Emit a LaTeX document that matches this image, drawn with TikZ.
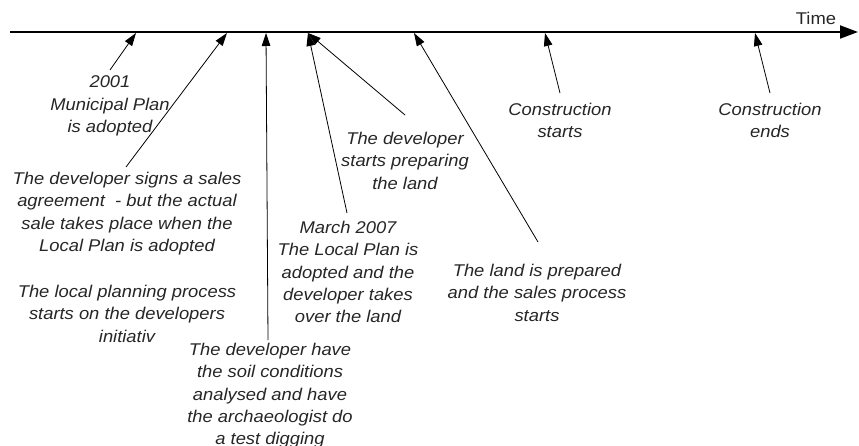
\documentclass[tikz,border=0pt]{standalone}
\usepackage{fontspec}
\setmainfont{Liberation Sans}[FakeStretch=1.08]
\usetikzlibrary{arrows.meta}
\begin{document}
\begin{tikzpicture}[x=1pt,y=-1pt,
  lbl/.style={anchor=north,inner sep=0pt,align=center,text=black!85,
    font=\fontsize{17}{22.4}\selectfont\itshape},
  conn/.style={line width=0.8pt,-{Triangle[length=13pt,width=8.5pt]}},
  axis/.style={line width=2pt,-{Triangle[length=18pt,width=13pt]}}]
\useasboundingbox (0,0) rectangle (859,446);
% timeline
\coordinate (tl0) at (10,32);
\coordinate (tl1) at (858,32);
\draw[axis] (tl0) -- (tl1);
\node[anchor=base,inner sep=0pt,text=black!85,font=\fontsize{17}{22.4}\selectfont] (time) at (816,25) {Time};
% points on timeline
\coordinate (p1) at (136,33);
\coordinate (p2) at (227,33);
\coordinate (p3) at (266,33);
\coordinate (p4) at (308,33);
\coordinate (p6) at (414,33);
\coordinate (p7) at (545,33);
\coordinate (p8) at (755,33);
% labels
\node[lbl] (t2001) at (110,75.7) {2001\\Municipal Plan\\is adopted};
\node[lbl] (tsales) at (127,171.7) {The developer signs a sales\\agreement~ - but the actual\\sale takes place when the\\Local Plan is adopted};
\node[lbl] (tlocal) at (127,284.7) {The local planning process\\starts on the developers\\initiativ};
\node[lbl] (tsoil) at (270,342.7) {The developer have\\the soil conditions\\analysed and have\\the archaeologist do\\a test digging};
\node[lbl] (tmarch) at (348,220.7) {March 2007\\The Local Plan is\\adopted and the\\developer takes\\over the land};
\node[lbl] (tdev) at (405,131.7) {The developer\\starts preparing\\the land};
\node[lbl] (tland) at (537,263.7) {The land is prepared\\and the sales process\\starts};
\node[lbl] (tcs) at (560,102.7) {Construction\\starts};
\node[lbl] (tce) at (770,102.7) {Construction\\ends};
% connector free ends
\coordinate (s1) at (110,70);
\coordinate (s2) at (126,167);
\coordinate (s3) at (268,340);
\coordinate (s4) at (347,213);
\coordinate (s5) at (405,115);
\coordinate (s6) at (538,242);
\coordinate (s7) at (560,93);
\coordinate (s8) at (770,93);
\draw[conn] (s1) -- (p1);
\draw[conn] (s2) -- (p2);
\draw[conn] (s3) -- (p3);
\draw[conn] (s4) -- (p4);
\draw[conn] (s5) -- (p4);
\draw[conn] (s6) -- (p6);
\draw[conn] (s7) -- (p7);
\draw[conn] (s8) -- (p8);
\end{tikzpicture}
\end{document}
